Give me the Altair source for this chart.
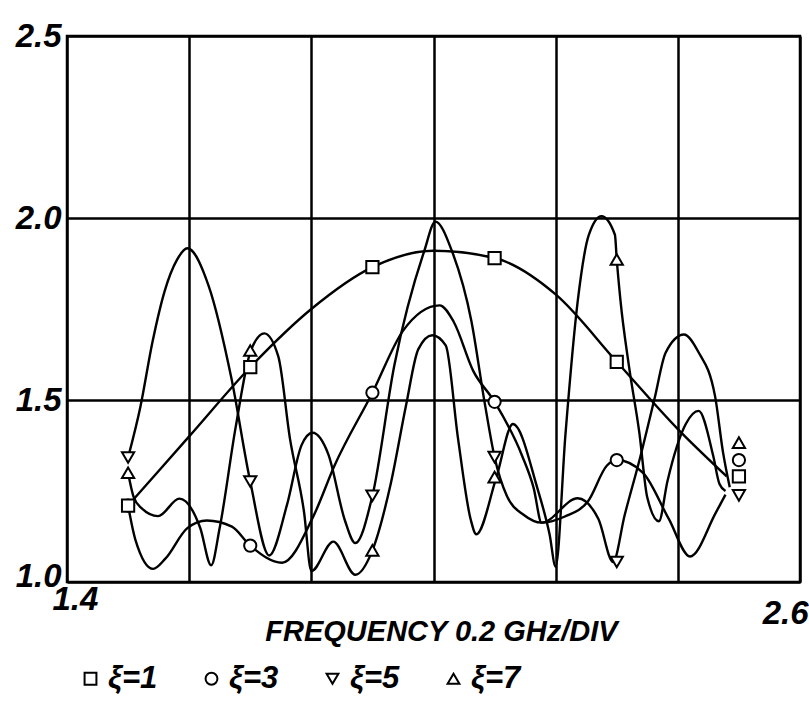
import altair as alt
import pandas as pd

FONT = "'Liberation Sans', Arial, sans-serif"

series_names = ["ξ=1", "ξ=3", "ξ=5", "ξ=7"]
series_shapes = ["square", "circle", "triangle-down", "triangle-up"]

# traced curves (frequency GHz, value)
f1 = [1.5, 1.6, 1.7, 1.8, 1.9, 2.0, 2.1, 2.2, 2.3, 2.4, 2.48]
v1 = [1.21, 1.40, 1.59, 1.75, 1.865, 1.91, 1.89, 1.79, 1.605, 1.42, 1.29]

f3 = [1.5, 1.512, 1.541, 1.561, 1.597, 1.629, 1.67, 1.7, 1.752, 1.804, 1.838, 1.9,
      1.95, 2.01, 2.033, 2.065, 2.1, 2.145, 2.164, 2.177, 2.215, 2.253, 2.284, 2.3,
      2.343, 2.385, 2.42, 2.462, 2.478]
v3 = [1.21, 1.116, 1.036, 1.064, 1.148, 1.169, 1.152, 1.10, 1.053, 1.183, 1.32, 1.52,
      1.69, 1.76, 1.715, 1.58, 1.495, 1.347, 1.258, 1.163, 1.18, 1.222, 1.32, 1.335,
      1.30, 1.174, 1.07, 1.19, 1.24]

f5 = [1.5, 1.52, 1.54, 1.56, 1.58, 1.597, 1.632, 1.669, 1.7, 1.731, 1.76, 1.784,
      1.802, 1.828, 1.855, 1.872, 1.9, 1.936, 1.985, 2.003, 2.03, 2.062, 2.084, 2.1,
      2.12, 2.148, 2.177, 2.236, 2.27, 2.294, 2.313, 2.338, 2.362, 2.38, 2.41, 2.433,
      2.461, 2.474, 2.485]
v5 = [1.342, 1.48, 1.66, 1.80, 1.885, 1.917, 1.813, 1.561, 1.276, 1.073, 1.211, 1.376,
      1.41, 1.35, 1.169, 1.107, 1.237, 1.596, 1.91, 1.99, 1.91, 1.717, 1.49, 1.343,
      1.237, 1.184, 1.163, 1.23, 1.173, 1.055, 1.184, 1.34, 1.505, 1.63, 1.68, 1.634,
      1.51, 1.356, 1.26]

f7 = [1.5, 1.509, 1.522, 1.549, 1.584, 1.618, 1.636, 1.65, 1.676, 1.701, 1.723, 1.746,
      1.765, 1.788, 1.8, 1.836, 1.872, 1.9, 1.93, 1.955, 1.975, 1.998, 2.02, 2.04,
      2.061, 2.07, 2.103, 2.13, 2.17, 2.19, 2.2, 2.216, 2.236, 2.254, 2.275, 2.297,
      2.3, 2.306, 2.32, 2.337, 2.35, 2.369, 2.383, 2.413, 2.434, 2.458, 2.468, 2.478]
v7 = [1.30, 1.234, 1.203, 1.181, 1.229, 1.149, 1.046, 1.149, 1.424, 1.636, 1.683, 1.619,
      1.394, 1.193, 1.03, 1.111, 1.02, 1.087, 1.27, 1.485, 1.639, 1.678, 1.65, 1.396,
      1.171, 1.131, 1.288, 1.434, 1.258, 1.131, 1.042, 1.405, 1.77, 1.952, 2.005, 1.954,
      1.886, 1.775, 1.593, 1.41, 1.232, 1.167, 1.277, 1.434, 1.47, 1.346, 1.27, 1.25]

# measured points (markers)
mf = [1.5, 1.7, 1.9, 2.1, 2.3, 2.5]
m1 = [1.21, 1.59, 1.865, 1.89, 1.605, 1.29]
m3 = [1.21, 1.10, 1.52, 1.495, 1.335, 1.335]
m5 = [1.342, 1.276, 1.237, 1.343, 1.055, 1.238]
m7 = [1.30, 1.636, 1.087, 1.288, 1.886, 1.383]

x_ticks = [1.4, 1.6, 1.8, 2.0, 2.2, 2.4, 2.6]
y_ticks = [1.0, 1.5, 2.0, 2.5]

curves = []
for name, fs, vs in zip(series_names, [f1, f3, f5, f7], [v1, v3, v5, v7]):
    for f, v in zip(fs, vs):
        curves.append({"series": name, "f": f, "v": v})
curve_df = pd.DataFrame(curves)

marks = []
# circles first so the start square sits on top
for name, vs in zip(["ξ=3", "ξ=5", "ξ=7", "ξ=1"], [m3, m5, m7, m1]):
    for f, v in zip(mf, vs):
        marks.append({"series": name, "f": f, "v": v})
marker_df = pd.DataFrame(marks)

x_enc = alt.X(
    "f:Q",
    scale=alt.Scale(domain=[1.4, 2.6], nice=False, zero=False),
    axis=alt.Axis(
        values=x_ticks,
        labelExpr="(datum.value < 1.45 || datum.value > 2.55) ? format(datum.value, '.1f') : ''",
        grid=True, gridColor="black", gridWidth=2.5, gridOpacity=1,
        ticks=False, domain=False,
        labelFont=FONT, labelFontSize=33, labelFontStyle="italic", labelFontWeight="bold",
        labelColor="black", labelFlush=False, labelOverlap=False, labelBound=False,
        labelAlign={"condition": {"test": "datum.value > 2.55", "value": "right"}, "value": "left"},
        labelOffset={"condition": {"test": "datum.value > 2.55", "value": 8}, "value": -15},
        labelPadding={"condition": {"test": "datum.value > 2.55", "value": 15}, "value": 1},
        title="FREQUENCY 0.2 GHz/DIV",
        titleFont=FONT, titleFontSize=29, titleFontStyle="italic", titleFontWeight="bold",
        titleColor="black", titleX=374, titleY=49, titleBaseline="middle", titleAlign="center",
    ),
)
y_enc = alt.Y(
    "v:Q",
    scale=alt.Scale(domain=[1.0, 2.5], nice=False, zero=False),
    axis=alt.Axis(
        values=y_ticks, format=".1f",
        grid=True, gridColor="black", gridWidth=2.5, gridOpacity=1,
        ticks=False, domain=False,
        labelFont=FONT, labelFontSize=33, labelFontStyle="italic", labelFontWeight="bold",
        labelColor="black", labelPadding=6, labelFlush=False, labelOverlap=False,
        labelOffset={"condition": {"test": "datum.value < 1.05", "value": -6}, "value": 0},
        title=None,
    ),
)

legend = alt.Legend(
    title=None, orient="none", legendX=8, legendY=627, direction="horizontal",
    labelFont=FONT, labelFontSize=31, labelFontStyle="italic", labelFontWeight="bold",
    labelColor="black", symbolSize=140, symbolStrokeWidth=2,
    symbolFillColor="white", symbolOpacity=1,
    columnPadding=38, labelOffset=2,
)

lines = alt.Chart(curve_df).mark_line(
    interpolate="monotone", color="black", strokeWidth=2.4
).encode(x=x_enc, y=y_enc, detail="series:N")

points = alt.Chart(marker_df).mark_point(
    filled=False, fill="white", strokeWidth=2, size=150, opacity=1, fillOpacity=1
).encode(
    x=x_enc, y=y_enc,
    shape=alt.Shape(
        "series:N",
        scale=alt.Scale(domain=series_names, range=series_shapes),
        legend=legend,
    ),
    color=alt.Color(
        "series:N",
        scale=alt.Scale(domain=series_names, range=["black"] * 4),
        legend=legend,
    ),
)

chart = alt.layer(lines, points).properties(
    width=733, height=546,
    padding={"left": 67, "top": 36, "right": 9, "bottom": 120},
    autosize=alt.AutoSizeParams(type="none"),
    background="white",
).configure_view(stroke="black", strokeWidth=2.5)

chart.save("out.html", embed_options={"renderer": "svg", "actions": False})
